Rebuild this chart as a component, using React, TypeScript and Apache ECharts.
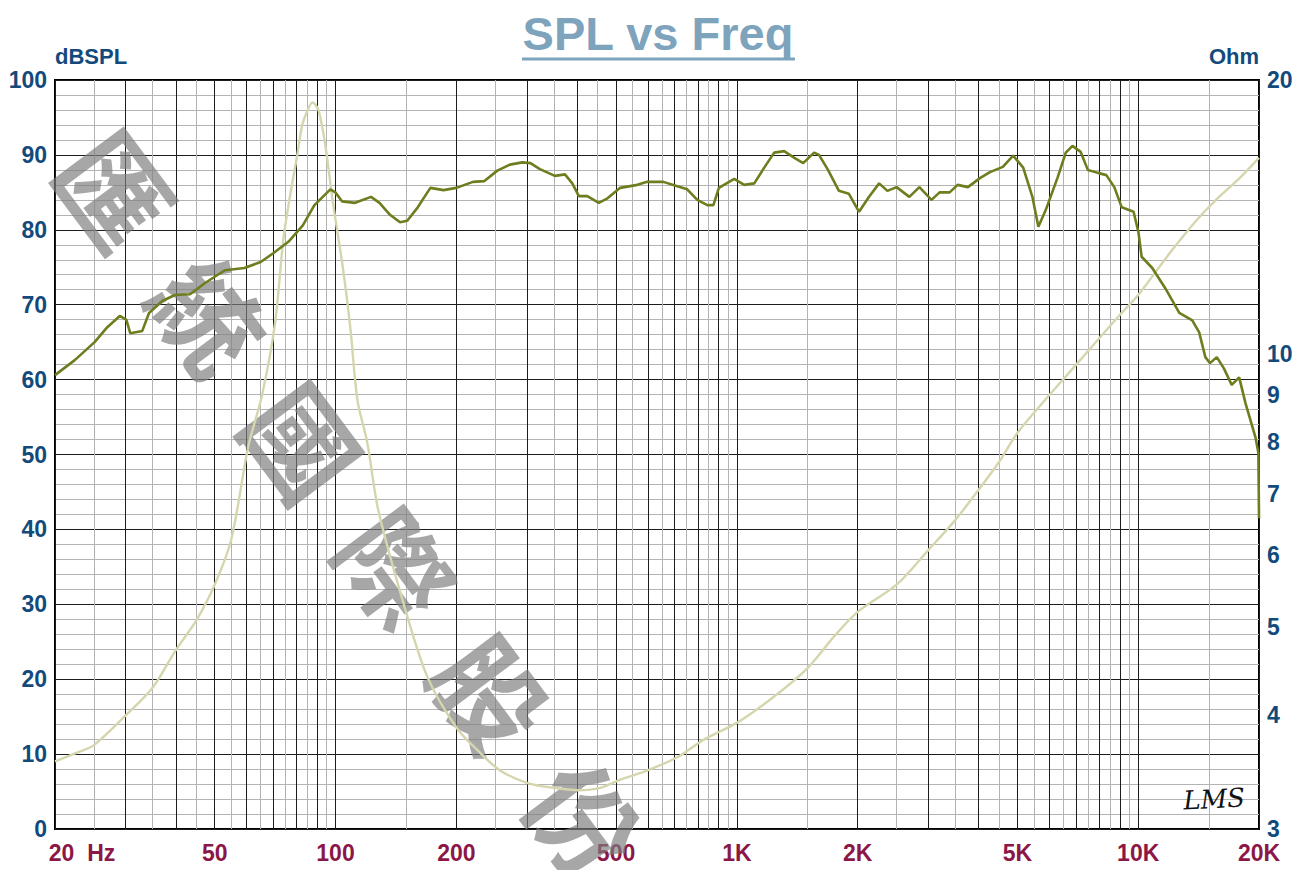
import React, { useEffect, useRef } from 'react';
import * as echarts from 'echarts';

// SPL curve (Hz, dBSPL)
const splFreq = [20, 22.4, 25.1, 27, 29, 30.1, 30.8, 33, 34.3, 37, 39.8, 43.4, 47.3, 53, 59.3, 65.1, 70.1, 76.3, 82.9, 88.6, 97.1, 99.9, 103.8, 111.9, 122.6, 128.7, 136.7, 144.8, 150.9, 160.3, 172.3, 185.8, 200, 220, 235, 253, 272, 292, 306, 323, 352, 373, 389, 404, 424, 453, 476, 512, 565, 598, 656, 711, 752, 797, 844, 874, 902, 985, 1043, 1105, 1170, 1239, 1312, 1391, 1463, 1558, 1602, 1687, 1796, 1902, 2016, 2135, 2262, 2372, 2500, 2690, 2850, 3055, 3200, 3390, 3550, 3765, 4034, 4272, 4600, 4880, 5170, 5450, 5640, 5880, 6300, 6600, 6860, 7190, 7490, 7940, 8330, 8720, 9100, 9740, 10020, 10200, 10840, 11680, 12660, 13640, 14190, 14700, 15100, 15700, 16350, 17100, 17850, 18500, 19600, 19930, 20000];
const splDb = [60.6, 62.6, 65.0, 67.0, 68.5, 68.0, 66.2, 66.5, 68.9, 70.5, 71.3, 71.4, 72.9, 74.6, 74.9, 75.7, 76.9, 78.4, 80.6, 83.3, 85.4, 85.0, 83.8, 83.6, 84.4, 83.6, 82.0, 81.0, 81.2, 83.0, 85.6, 85.3, 85.6, 86.4, 86.5, 87.9, 88.7, 89.0, 88.9, 88.1, 87.2, 87.4, 86.2, 84.5, 84.5, 83.6, 84.2, 85.6, 86.0, 86.4, 86.4, 85.8, 85.4, 84.0, 83.3, 83.3, 85.6, 86.8, 86.0, 86.2, 88.3, 90.3, 90.5, 89.6, 88.9, 90.3, 90.0, 88.0, 85.2, 84.8, 82.4, 84.4, 86.2, 85.2, 85.7, 84.4, 85.7, 84.0, 85.0, 85.0, 86.0, 85.7, 86.9, 87.7, 88.4, 89.9, 88.3, 84.4, 80.4, 82.6, 87.0, 90.3, 91.2, 90.4, 88.0, 87.6, 87.3, 85.7, 83.0, 82.4, 79.6, 76.4, 74.9, 72.2, 68.9, 67.9, 66.3, 63.0, 62.2, 63.0, 61.5, 59.3, 60.3, 56.9, 52.3, 50.2, 41.5];

// Impedance curve (Hz, Ohm)
const impFreq = [20, 22.7, 25, 30, 35, 40, 45, 50, 55, 60.6, 65.6, 70.7, 74.1, 77.1, 80.3, 82.6, 85.2, 87.6, 90.8, 94.7, 98.3, 104.5, 109, 113.4, 120, 127.8, 147.6, 169.4, 200, 229, 257, 301, 349, 403, 457, 513, 599, 712, 826, 1004, 1250, 1500, 1750, 2000, 2500, 3000, 3500, 4000, 4500, 5000, 6000, 7000, 8000, 9000, 10000, 12000, 14000, 16000, 18000, 20000];
const impOhm = [3.56, 3.64, 3.71, 4.0, 4.29, 4.72, 5.09, 5.57, 6.25, 7.9, 9.0, 10.81, 13.34, 14.95, 16.54, 17.84, 18.53, 18.9, 18.5, 16.75, 14.76, 12.36, 10.62, 8.89, 7.98, 6.73, 5.32, 4.41, 3.88, 3.64, 3.48, 3.37, 3.33, 3.31, 3.33, 3.40, 3.48, 3.60, 3.76, 3.93, 4.21, 4.51, 4.89, 5.20, 5.57, 6.08, 6.56, 7.08, 7.60, 8.18, 9.00, 9.72, 10.40, 11.03, 11.60, 12.91, 14.03, 14.91, 15.64, 16.42];

// Axis ticks / labels
const freqLabelValues = [20, 50, 100, 200, 500, 1000, 2000, 5000, 10000, 20000];
const freqLabelTexts = ['20  Hz', '50', '100', '200', '500', '1K', '2K', '5K', '10K', '20K'];
const freqMajorLines = [20, 30, 40, 50, 60, 70, 80, 90, 100, 200, 300, 400, 500, 600, 700, 800, 900, 1000, 2000, 3000, 4000, 5000, 6000, 7000, 8000, 9000, 10000, 20000];
const freqMinorLines = [25, 35, 45, 55, 65, 75, 85, 95, 150, 250, 350, 450, 550, 650, 750, 850, 950, 1500, 2500, 3500, 4500, 5500, 6500, 7500, 8500, 9500, 15000];
const ohmTicks = [3, 4, 5, 6, 7, 8, 9, 10, 20];
const watermarkChars = ['匯', '統', '國', '際', '股', '份'];

const BLUE = '#134a7c';
const MAROON = '#8c1747';
const TITLE = '#7ea3bd';
const FONT = '"Liberation Sans", Arial, sans-serif';

export default function App() {
  const ref = useRef<HTMLDivElement>(null);
  useEffect(() => {
    if (!ref.current) return;
    const chart = echarts.init(ref.current, null, { renderer: 'svg' });
    const labelStyle = { fontFamily: FONT, fontWeight: 'bold' as const, fontSize: 23 };
    const option: any = {
      animation: false,
      backgroundColor: '#ffffff',
      grid: {
        left: 55, right: 45, top: 80, bottom: 41,
        show: true, borderColor: '#000', borderWidth: 2, backgroundColor: 'transparent',
        containLabel: false, outerBoundsMode: 'none',
      },
      xAxis: [
        {
          type: 'log', logBase: 10, min: 20, max: 20000, position: 'bottom',
          axisLine: { show: false },
          axisTick: { show: false, customValues: freqMajorLines },
          splitLine: { show: true, lineStyle: { color: '#1c1c1c', width: 1 } },
          axisLabel: {
            show: true, margin: 12, hideOverlap: false, showMinLabel: true, showMaxLabel: true,
            customValues: freqLabelValues,
            color: MAROON, ...labelStyle,
            formatter: (v: number) => {
              const i = freqLabelValues.findIndex((f) => Math.abs(f - v) / f < 1e-4);
              const t = i >= 0 ? freqLabelTexts[i] : String(v);
              return i === 0 ? '{hz|' + t + '}' : t;
            },
            rich: {
              hz: { color: MAROON, fontFamily: FONT, fontWeight: 'bold', fontSize: 23, padding: [0, 0, 0, 54] },
            },
          },
        },
        {
          type: 'log', logBase: 10, min: 20, max: 20000, position: 'bottom',
          axisLine: { show: false },
          axisTick: { show: false, customValues: freqMinorLines },
          axisLabel: { show: false },
          splitLine: { show: true, lineStyle: { color: '#b3b3b3', width: 1 } },
        },
      ],
      yAxis: [
        {
          type: 'value', min: 0, max: 100, interval: 10, position: 'left',
          name: 'dBSPL', nameLocation: 'end', nameGap: 13,
          nameTextStyle: { color: BLUE, fontFamily: FONT, fontWeight: 'bold', fontSize: 22, align: 'left', verticalAlign: 'bottom' },
          axisLine: { show: false },
          axisTick: { show: false },
          axisLabel: { color: BLUE, margin: 8, ...labelStyle },
          splitLine: { show: true, lineStyle: { color: '#1c1c1c', width: 1 } },
          minorTick: { show: false, splitNumber: 5 },
          minorSplitLine: { show: true, lineStyle: { color: '#b3b3b3', width: 1 } },
        },
        {
          type: 'log', logBase: 10, min: 3, max: 20, position: 'right',
          name: 'Ohm', nameLocation: 'end', nameGap: 13,
          nameTextStyle: { color: BLUE, fontFamily: FONT, fontWeight: 'bold', fontSize: 22, align: 'right', verticalAlign: 'bottom' },
          axisLine: { show: false },
          axisTick: { show: false, customValues: ohmTicks },
          splitLine: { show: false },
          axisLabel: {
            color: BLUE, margin: 8, hideOverlap: false, showMinLabel: true, showMaxLabel: true,
            customValues: ohmTicks, ...labelStyle,
            formatter: (v: number) => String(Math.round(v)),
          },
        },
      ],
      series: [
        {
          type: 'line', name: 'Impedance', xAxisIndex: 0, yAxisIndex: 1,
          data: impFreq.map((f, i) => [f, impOhm[i]]),
          showSymbol: false, smooth: 0.3, z: 3,
          lineStyle: { color: '#d6d6ae', width: 2.4 },
        },
        {
          type: 'line', name: 'SPL', xAxisIndex: 0, yAxisIndex: 0,
          data: splFreq.map((f, i) => [f, splDb[i]]),
          showSymbol: false, smooth: false, z: 4,
          lineStyle: { color: '#6e7d1e', width: 2.6 },
        },
      ],
      graphic: [
        {
          type: 'group', x: 118, y: 188, rotation: -0.93, z: 2,
          children: watermarkChars.map((c, i) => ({
            type: 'text', x: i * 157, y: 0, z: 2,
            style: {
              text: c, font: 'bold 108px "Noto Sans CJK TC", "Noto Sans CJK SC", sans-serif',
              fill: 'rgba(125,125,125,0.68)', align: 'center', verticalAlign: 'middle',
            },
          })),
        },
        {
          type: 'text', x: 658, y: 33, z: 10,
          style: { text: 'SPL vs Freq', font: 'bold 47px ' + FONT, fill: TITLE, align: 'center', verticalAlign: 'middle' },
        },
        {
          type: 'line', z: 10,
          shape: { x1: 522, y1: 59, x2: 795, y2: 59 },
          style: { stroke: TITLE, lineWidth: 3 },
        },
        {
          type: 'text', x: 1214, y: 799, z: 10, rotation: 0.05,
          style: { text: 'LMS', font: 'italic 26px "DejaVu Serif", serif', fill: '#111', align: 'center', verticalAlign: 'middle' },
        },
      ],
    };
    chart.setOption(option);
    return () => chart.dispose();
  }, []);
  return (
    <div
      ref={ref}
      style={{ position: 'fixed', left: 0, top: 0, width: 1304, height: 870, background: '#fff' }}
    />
  );
}
